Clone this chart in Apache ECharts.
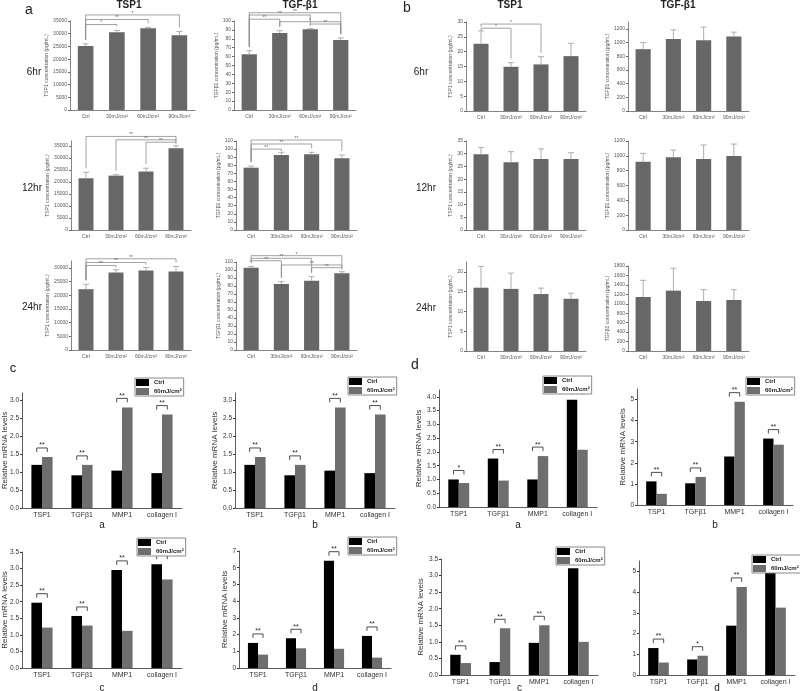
<!DOCTYPE html>
<html>
<head>
<meta charset="utf-8">
<script src="https://cdn.jsdelivr.net/npm/echarts@6/dist/echarts.min.js"></script>
<style>
  html, body { margin: 0; padding: 0; background: #fff; }
  #chart { width: 800px; height: 691px; }
</style>
</head>
<body>
<div id="chart"></div>
<script>
// ---------- data ----------
const doseCats = ['Ctrl', '30mJ/cm²', '60mJ/cm²', '90mJ/cm²'];
const geneCats = ['TSP1', 'TGFβ1', 'MMP1', 'collagen I'];

// panel a (bar value / top of error bar / brackets [from, to, level, stars])
const aTsp6 = [25200, 30600, 32100, 29400];
const aTsp6Err = [26000, 31300, 32500, 30900];
const aTsp6Sig = [[0, 3, 37400, '*'], [0, 2, 35600, '**'], [0, 1, 33600, '*']];
const aTgf6 = [62.6, 86.5, 90.7, 78.7];
const aTgf6Err = [66.6, 89.1, 91.4, 80.9];
const aTgf6Sig = [[0, 3, 109.3, '**'], [0, 2, 106.7, '**'], [0, 1, 102, '**'], [1, 3, 99.2, '*'], [2, 3, 96.6, '**']];
const aTsp12 = [21500, 22600, 24300, 34000];
const aTsp12Err = [24000, 23000, 25700, 35000];
const aTsp12Sig = [[0, 3, 38900, '**'], [1, 3, 37500, '**'], [2, 3, 36500, '**']];
const aTgf12 = [77, 92.7, 93.6, 88.6];
const aTgf12Err = [79, 96, 96, 92.7];
const aTgf12Sig = [[0, 3, 111.2, '**'], [0, 2, 106.3, '**'], [0, 1, 100, '**']];
const aTsp24 = [22200, 28300, 29000, 28700];
const aTsp24Err = [24000, 29300, 30100, 30500];
const aTsp24Sig = [[0, 3, 33300, '**'], [0, 2, 31950, '**'], [0, 1, 30850, '**']];
const aTgf24 = [102.9, 82.5, 86.7, 95.8];
const aTgf24Err = [104.4, 85.4, 91.7, 97.9];
const aTgf24Sig = [[0, 3, 117.9, '*'], [0, 2, 114.6, '**'], [0, 1, 111.6, '**'], [1, 3, 106.3, '**'], [2, 3, 102.9, '**']];

// panel b
const bTsp6 = [22.7, 14.9, 15.7, 18.5];
const bTsp6Err = [27, 16.3, 18.3, 22.8];
const bTsp6Sig = [[0, 2, 29.3, '*'], [0, 1, 27.9, '*']];
const bTgf6 = [903, 1050, 1035, 1088];
const bTgf6Err = [1000, 1186, 1225, 1152];
const bTsp12 = [29.8, 26.6, 27.9, 27.9];
const bTsp12Err = [32.4, 30.8, 31.9, 30.4];
const bTgf12 = [921, 980, 957, 997];
const bTgf12Err = [1033, 1078, 1146, 1159];
const bTsp24 = [16.0, 15.7, 14.4, 13.2];
const bTsp24Err = [21.4, 19.7, 15.9, 14.6];
const bTgf24 = [1144, 1278, 1059, 1080];
const bTgf24Err = [1497, 1752, 1299, 1299];

// panels c and d (Ctrl / 60mJ/cm² relative mRNA levels)
const caCtrl = [1.20, 0.91, 1.04, 0.97];
const caUv = [1.42, 1.20, 2.80, 2.60];
const cbCtrl = [1.20, 0.91, 1.04, 0.97];
const cbUv = [1.42, 1.20, 2.80, 2.60];
const ccCtrl = [1.97, 1.57, 2.96, 3.13];
const ccUv = [1.22, 1.28, 1.12, 2.67];
const cdCtrl = [1.50, 1.78, 6.42, 1.92];
const cdUv = [0.80, 1.18, 1.15, 0.62];
const daCtrl = [1.00, 1.76, 1.00, 3.90];
const daUv = [0.87, 0.96, 1.85, 2.08];
const dbCtrl = [1.12, 1.03, 2.30, 3.15];
const dbUv = [0.53, 1.33, 4.90, 2.86];
const dcCtrl = [0.61, 0.39, 0.97, 3.22];
const dcUv = [0.36, 1.41, 1.50, 1.00];
const ddCtrl = [1.30, 0.75, 2.38, 5.08];
const ddUv = [0.60, 0.93, 4.25, 3.25];
const allStars = ['**', '**', '**', '**'];
const daSig = ['*', '**', '**', '**'];
const ddSig = ['**', '*', '**', '**'];

// ---------- building ----------
const FONT = 'Liberation Sans, Arial, sans-serif';
const grids = [], xAxes = [], yAxes = [], series = [], legends = [], texts = [];

function errItem(params, api) {
  const b = api.coord([api.value(0), api.value(1)]);
  const t = api.coord([api.value(0), api.value(2)]);
  const st = { stroke: '#9a9a9a', lineWidth: 0.8 };
  return { type: 'group', children: [
    { type: 'line', shape: { x1: b[0], y1: b[1], x2: t[0], y2: t[1] }, style: st },
    { type: 'line', shape: { x1: t[0] - 3, y1: t[1], x2: t[0] + 3, y2: t[1] }, style: st }
  ]};
}

function topBracket(sig, tops) {
  return function (params, api) {
    const s = sig[params.dataIndex];
    const a = api.coord([s[0], s[2]]);
    const b = api.coord([s[1], s[2]]);
    const ya = Math.max(api.coord([s[0], tops[s[0]]])[1] - 4, a[1] + 2);
    const yb = Math.max(api.coord([s[1], tops[s[1]]])[1] - 4, a[1] + 2);
    return { type: 'group', children: [
      { type: 'polyline', shape: { points: [[a[0], ya], [a[0], a[1]], [b[0], a[1]], [b[0], yb]] },
        style: { stroke: '#8a8a8a', lineWidth: 0.8, fill: null } },
      { type: 'text', x: (a[0] + b[0]) / 2, y: a[1] + 1,
        style: { text: s[3], fill: '#666', align: 'center', verticalAlign: 'bottom', font: '5px ' + FONT } }
    ]};
  };
}

function topPlot(c, vals, errs, sig, name) {
  const i = grids.length;
  grids.push({ left: c.x, top: c.y, width: c.w, height: c.h, outerBoundsMode: 'none' });
  xAxes.push({
    type: 'category', gridIndex: i, data: doseCats,
    axisLine: { lineStyle: { color: '#666', width: 0.8 } },
    axisTick: { alignWithLabel: true, length: 2, lineStyle: { color: '#666' } },
    axisLabel: { fontSize: 5, color: '#555', margin: 4, interval: 0, fontFamily: FONT }
  });
  yAxes.push({
    type: 'value', gridIndex: i, min: 0, max: c.max, interval: c.int,
    name: name, nameLocation: 'middle', nameGap: c.gap,
    nameTextStyle: { fontSize: 5, color: '#555', fontFamily: FONT },
    axisLine: { show: true, lineStyle: { color: '#666', width: 0.8 } },
    axisTick: { show: true, length: 2, lineStyle: { color: '#666' } },
    splitLine: { show: false },
    axisLabel: { fontSize: 5, color: '#555', margin: 3, fontFamily: FONT,
      formatter: v => String(v),
      showMaxLabel: Math.abs(c.max / c.int - Math.round(c.max / c.int)) < 1e-6 }
  });
  series.push({ type: 'bar', xAxisIndex: i, yAxisIndex: i, data: vals, barWidth: '50%',
    itemStyle: { color: '#676767' }, silent: true });
  series.push({ type: 'custom', xAxisIndex: i, yAxisIndex: i, z: 3, silent: true,
    data: vals.map((v, k) => [k, v, errs[k]]), renderItem: errItem });
  if (sig) {
    const tops = vals.map((v, k) => Math.max(v, errs[k]));
    series.push({ type: 'custom', xAxisIndex: i, yAxisIndex: i, z: 4, silent: true, clip: false,
      data: sig.map(s => [s[0], s[2]]), renderItem: topBracket(sig, tops) });
  }
}

function bottomBracket(stars, ctrl, uv) {
  return function (params, api) {
    const k = params.dataIndex;
    const c = api.coord([k, Math.max(ctrl[k], uv[k])]);
    const bw = api.size([1, 0])[0] * 0.53 / 2;
    const x1 = c[0] - bw / 2, x2 = c[0] + bw / 2, y = c[1] - 9;
    return { type: 'group', children: [
      { type: 'polyline', shape: { points: [[x1, y + 4], [x1, y], [x2, y], [x2, y + 4]] },
        style: { stroke: '#222', lineWidth: 0.8, fill: null } },
      { type: 'text', x: c[0], y: y + 1,
        style: { text: stars[k], fill: '#222', align: 'center', verticalAlign: 'bottom', font: '7px ' + FONT } }
    ]};
  };
}

function bottomPlot(c, ctrl, uv, stars, letter) {
  const i = grids.length;
  grids.push({ left: c.x, top: c.y, width: c.w, height: c.h, outerBoundsMode: 'none' });
  xAxes.push({
    type: 'category', gridIndex: i, data: geneCats,
    axisLine: { lineStyle: { color: '#333', width: 0.8 } },
    axisTick: { show: false },
    axisLabel: { fontSize: 7, color: '#333', margin: 4, interval: 0, fontFamily: FONT }
  });
  yAxes.push({
    type: 'value', gridIndex: i, min: 0, max: c.max, interval: c.int,
    name: c.noName ? '' : 'Relative mRNA levels', nameLocation: 'middle', nameGap: c.gap,
    nameMoveOverlap: c.fixName ? false : undefined,
    nameTextStyle: { fontSize: 8, color: '#333', fontFamily: FONT },
    axisLine: { show: true, lineStyle: { color: '#333', width: 0.8 } },
    axisTick: { show: true, length: 2, lineStyle: { color: '#333' } },
    splitLine: { show: false },
    axisLabel: { fontSize: 6.5, color: '#333', margin: 3, fontFamily: FONT,
      formatter: v => v.toFixed(c.dec),
      showMaxLabel: Math.abs(c.max / c.int - Math.round(c.max / c.int)) < 1e-6 }
  });
  series.push({ type: 'bar', name: 'Ctrl', xAxisIndex: i, yAxisIndex: i, data: ctrl,
    barGap: '0%', barCategoryGap: '47%', itemStyle: { color: '#000' }, silent: true });
  series.push({ type: 'bar', name: '60mJ/cm²', xAxisIndex: i, yAxisIndex: i, data: uv,
    barGap: '0%', barCategoryGap: '47%', itemStyle: { color: '#6e6e6e' }, silent: true });
  series.push({ type: 'custom', xAxisIndex: i, yAxisIndex: i, z: 4, silent: true, clip: false,
    data: ctrl.map((v, k) => [k, Math.max(v, uv[k])]), renderItem: bottomBracket(stars, ctrl, uv) });
  legends.push({
    data: ['Ctrl', '60mJ/cm²'], orient: 'vertical', left: c.lx, top: c.ly, z: 20,
    icon: 'rect', itemWidth: 13, itemHeight: 7, itemGap: 2, selectedMode: false,
    borderColor: '#888', borderWidth: 1, padding: [1, 2, 1, 1], backgroundColor: '#fff',
    textStyle: { fontSize: 6, fontWeight: 'bold', color: '#222', fontFamily: FONT }
  });
  texts.push({ type: 'text', x: c.x + c.w / 2, y: c.ly2,
    style: { text: letter, font: '10px ' + FONT, fill: '#222', align: 'center', verticalAlign: 'middle' } });
}

// top panels
topPlot({ x: 70, y: 21, w: 125, h: 89, max: 35000, int: 5000, gap: 18 }, aTsp6, aTsp6Err, aTsp6Sig, 'TSP1 concentration (pg/mL)');
topPlot({ x: 234, y: 21, w: 122, h: 89, max: 100, int: 10, gap: 10 }, aTgf6, aTgf6Err, aTgf6Sig, 'TGFβ1 concentration (pg/mL)');
topPlot({ x: 71, y: 141, w: 120, h: 89, max: 37000, int: 5000, gap: 18 }, aTsp12, aTsp12Err, aTsp12Sig, 'TSP1 concentration (pg/mL)');
topPlot({ x: 236, y: 141, w: 121, h: 89, max: 110, int: 10, gap: 11 }, aTgf12, aTgf12Err, aTgf12Sig, 'TGFβ1 concentration (pg/mL)');
topPlot({ x: 71, y: 261, w: 120, h: 89, max: 32500, int: 5000, gap: 18 }, aTsp24, aTsp24Err, aTsp24Sig, 'TSP1 concentration (pg/mL)');
topPlot({ x: 236, y: 262, w: 121, h: 88, max: 110, int: 10, gap: 11 }, aTgf24, aTgf24Err, aTgf24Sig, 'TGFβ1 concentration (pg/mL)');
topPlot({ x: 466, y: 22, w: 120, h: 89, max: 30, int: 5, gap: 11 }, bTsp6, bTsp6Err, bTsp6Sig, 'TSP1 concentration (pg/mL)');
topPlot({ x: 628, y: 22, w: 121, h: 89, max: 1300, int: 200, gap: 14 }, bTgf6, bTgf6Err, null, 'TGFβ1 concentration (pg/mL)');
topPlot({ x: 466, y: 141, w: 120, h: 89, max: 35, int: 5, gap: 11 }, bTsp12, bTsp12Err, null, 'TSP1 concentration (pg/mL)');
topPlot({ x: 628, y: 141, w: 121, h: 89, max: 1200, int: 200, gap: 14 }, bTgf12, bTgf12Err, null, 'TGFβ1 concentration (pg/mL)');
topPlot({ x: 466, y: 262, w: 120, h: 89, max: 22.5, int: 5, gap: 11 }, bTsp24, bTsp24Err, null, 'TSP1 concentration (pg/mL)');
topPlot({ x: 628, y: 266, w: 121, h: 85, max: 1800, int: 200, gap: 14 }, bTgf24, bTgf24Err, null, 'TGFβ1 concentration (pg/mL)');

// bottom panels
bottomPlot({ x: 22, y: 393, w: 160, h: 115, max: 3.2, int: 0.5, dec: 1, gap: 13, fixName: true, lx: 135, ly: 378, ly2: 525 }, caCtrl, caUv, allStars, 'a');
bottomPlot({ x: 235, y: 393, w: 160, h: 115, max: 3.2, int: 0.5, dec: 1, gap: 12, lx: 348, ly: 377, ly2: 525 }, cbCtrl, cbUv, allStars, 'b');
bottomPlot({ x: 22, y: 552, w: 160, h: 116, max: 3.5, int: 0.5, dec: 1, gap: 13, fixName: true, lx: 137, ly: 538, ly2: 688 }, ccCtrl, ccUv, allStars, 'c');
bottomPlot({ x: 239, y: 551, w: 152, h: 117, max: 7, int: 1, dec: 0, gap: 9, lx: 348, ly: 537, ly2: 688 }, cdCtrl, cdUv, allStars, 'd');
bottomPlot({ x: 439, y: 390, w: 158, h: 117, max: 4.25, int: 0.5, dec: 1, gap: 12, lx: 543, ly: 376, ly2: 525 }, daCtrl, daUv, daSig, 'a');
bottomPlot({ x: 637, y: 389, w: 156, h: 116, max: 5.5, int: 1, dec: 0, gap: 8, lx: 746, ly: 377, ly2: 525 }, dbCtrl, dbUv, allStars, 'b');
bottomPlot({ x: 441, y: 559, w: 157, h: 116, max: 3.5, int: 0.5, dec: 1, gap: 12, lx: 556, ly: 547, ly2: 688 }, dcCtrl, dcUv, allStars, 'c');
bottomPlot({ x: 639, y: 561, w: 156, h: 114, max: 5.5, int: 1, dec: 0, gap: 8, noName: true, lx: 752, ly: 555, ly2: 688 }, ddCtrl, ddUv, ddSig, 'd');

// figure labels
function label(t, x, y, size, bold) {
  texts.push({ type: 'text', x: x, y: y,
    style: { text: t, font: (bold ? 'bold ' : '') + size + 'px ' + FONT, fill: '#222', align: 'center', verticalAlign: 'middle' } });
}
label('a', 29, 10, 14); label('b', 407, 8, 14);
label('c', 13, 368, 13); label('d', 415, 365, 14);
label('TSP1', 129, 5, 10, true); label('TGF-β1', 300, 5, 10, true);
label('TSP1', 510, 5, 10, true); label('TGF-β1', 678, 5, 10, true);
label('6hr', 34, 72, 10); label('12hr', 32, 188, 10); label('24hr', 32, 307, 10);
label('6hr', 421, 72, 10); label('12hr', 426, 188, 10); label('24hr', 426, 308, 10);

const chart = echarts.init(document.getElementById('chart'));
chart.setOption({
  backgroundColor: '#fff',
  animation: false,
  textStyle: { fontFamily: FONT },
  grid: grids,
  xAxis: xAxes,
  yAxis: yAxes,
  legend: legends,
  series: series,
  graphic: texts
});
</script>
</body>
</html>
